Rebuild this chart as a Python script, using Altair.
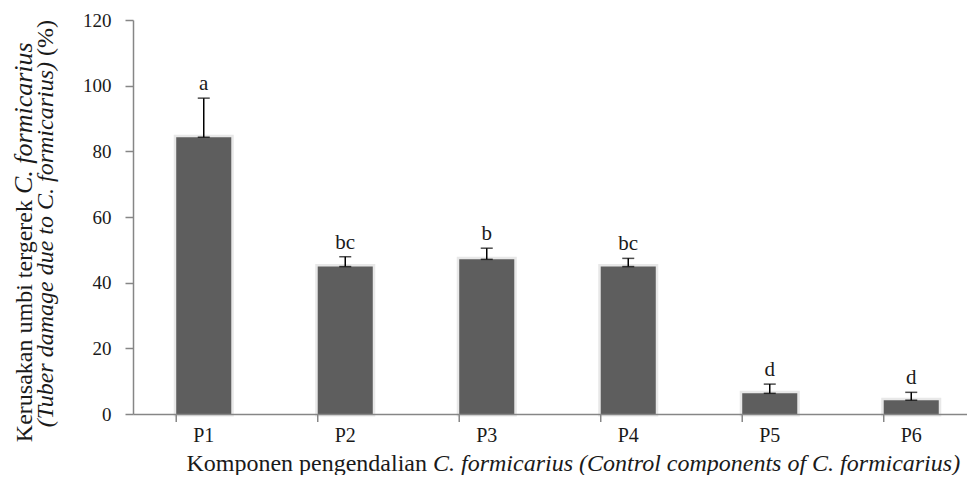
import altair as alt
import pandas as pd

categories = ["P1", "P2", "P3", "P4", "P5", "P6"]
damage = [84.3, 44.9, 47.1, 44.9, 6.3, 4.2]
se = [11.9, 3.0, 3.4, 2.5, 2.8, 2.4]
letters = ["a", "bc", "b", "bc", "d", "d"]
y_ticks = [0, 20, 40, 60, 80, 100, 120]

df = pd.DataFrame({"cat": categories, "val": damage, "se": se, "lab": letters})
df["top"] = df["val"] + df["se"]

FONT = "Liberation Serif, Times New Roman, serif"
GRAY = "#868686"
W, H = 834, 394
RANGE = 849

xscale = alt.Scale(domain=categories, range=[0, RANGE], paddingInner=0.611, paddingOuter=0.3055)
yscale = alt.Scale(domain=[0, 120])

x_axis = alt.Axis(title=None, labelAngle=0, ticks=False, tickSize=0, labelFont=FONT,
                  labelFontSize=20, labelPadding=11, labelColor="#1a1a1a",
                  domainColor=GRAY, domainWidth=1.5, zindex=1)
y_axis = alt.Axis(title=None, values=y_ticks, grid=False, tickSize=8, tickColor=GRAY,
                  domainColor=GRAY, domainWidth=1.5, tickWidth=1.5, labelFont=FONT,
                  labelFontSize=19, labelPadding=14, labelColor="#1a1a1a", zindex=1)


def xenc(**kw):
    return alt.X("cat:N", scale=xscale, sort=categories, axis=x_axis, **kw)


base = alt.Chart(df)

shadow = base.mark_bar(color="#e2e2e2", stroke="#e8e8e8", strokeWidth=5).encode(
    x=xenc(), y=alt.Y("val:Q", scale=yscale, axis=y_axis))
bars = base.mark_bar(color="#5e5e5e").encode(
    x=xenc(), y=alt.Y("val:Q", scale=yscale, axis=y_axis))
err = base.mark_rule(color="black", strokeWidth=1.5).encode(
    x=xenc(), y=alt.Y("val:Q", scale=yscale, axis=y_axis), y2="top:Q")
cap_lo = base.mark_tick(color="black", thickness=1.5, size=12).encode(
    x=xenc(), y=alt.Y("val:Q", scale=yscale, axis=y_axis))
cap_hi = base.mark_tick(color="black", thickness=1.5, size=12).encode(
    x=xenc(), y=alt.Y("top:Q", scale=yscale, axis=y_axis))
labels = base.mark_text(baseline="alphabetic", dy=-8, font=FONT, fontSize=21, color="#1a1a1a").encode(
    x=xenc(), y=alt.Y("top:Q", scale=yscale, axis=y_axis), text="lab:N")

xticks = alt.Chart(pd.DataFrame({"cat": categories})).mark_rule(color=GRAY, strokeWidth=1.5).encode(
    x=xenc(bandPosition=0), y=alt.value(H), y2=alt.value(H + 8))


def txt(s, x, y, align, italic, angle=0, size=24):
    return alt.Chart(pd.DataFrame({"t": [s]})).mark_text(
        font=FONT, fontSize=size, fontStyle="italic" if italic else "normal",
        align=align, baseline="alphabetic", angle=angle, color="#1a1a1a"
    ).encode(x=alt.value(x), y=alt.value(y), text="t:N")


titles = [
    txt("Komponen pengendalian", 294, 451, "right", False),
    txt("C. formicarius (Control components of C. formicarius)", 300, 451, "left", True),
    txt("Kerusakan umbi tergerek", -101, 180, "right", False, 270),
    txt("C. formicarius", -101, 174, "left", True, 270, 26),
    txt("(Tuber damage due to C. formicarius)", -80, 42, "right", True, 270),
    txt("(%)", -80, 36, "left", False, 270),
]

chart = alt.layer(shadow, bars, err, cap_lo, cap_hi, labels, xticks, *titles).properties(
    width=W, height=H,
    autosize=alt.AutoSizeParams(type="none"),
    padding={"left": 125, "top": 12, "right": 0, "bottom": 61},
    background="white",
).configure_view(stroke=None)

chart.save("out.html", embed_options={"renderer": "svg", "actions": False})
